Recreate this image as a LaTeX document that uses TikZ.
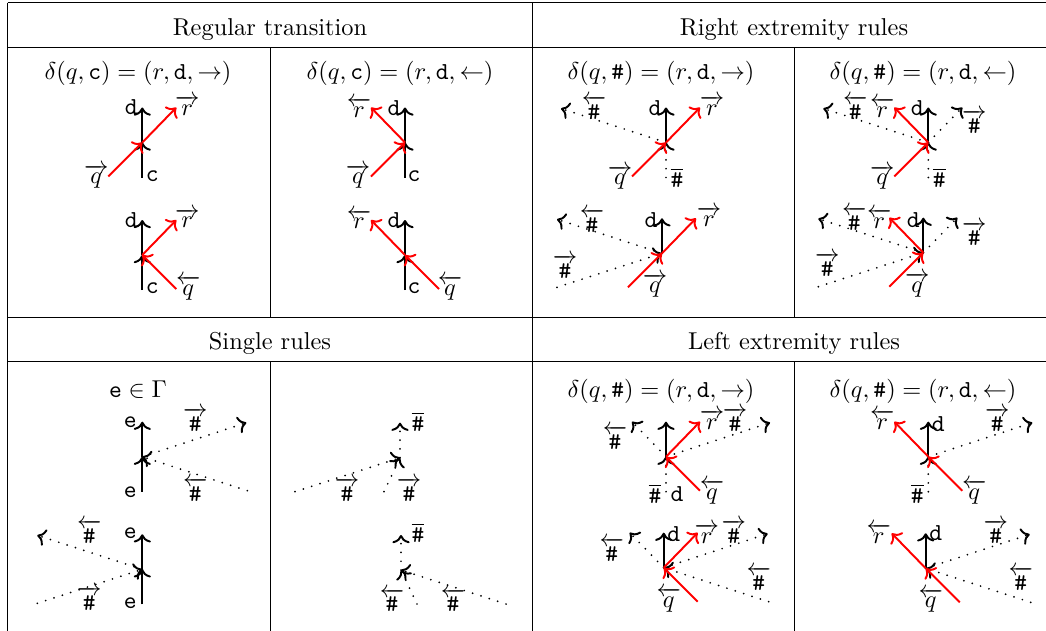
\documentclass[tikz,border=0pt]{standalone}
\usepackage{amsmath,amssymb}
\usetikzlibrary{arrows.meta,positioning}

% end points round the crossing of one diagram
\newcommand{\armends}{%
  \coordinate (c) at (0,0);
  \coordinate (n) at (0,-35);
  \coordinate (s) at (0,35);
  \coordinate (ne) at (34,-35);
  \coordinate (nw) at (-34,-35);
  \coordinate (se) at (34,34);
  \coordinate (sw) at (-34,34);
  \coordinate (wn) at (-105,-34);
  \coordinate (ws) at (-105,34);
  \coordinate (en) at (104,-34);
  \coordinate (es) at (105,34);
  \coordinate (ssw) at (-16,34);
  \coordinate (sse) at (16,34);
}
\newcommand{\hl}{$\overleftarrow{\texttt{\#}}$}
\newcommand{\hr}{$\overrightarrow{\texttt{\#}}$}
\newcommand{\hb}{$\overline{\texttt{\#}}$}

\begin{document}
\begin{tikzpicture}[x=0.41pt, y=-0.41pt,
  tape/.style={thick, ->},
  run/.style={thick, red, ->},
  blank/.style={thick, ->, line cap=round, dash pattern=on 0pt off 3.6pt},
  lbl/.style={inner sep=0pt},
  title/.style={anchor=base}
]
\useasboundingbox (0,0) rectangle (1046,630);

% table
\draw (7.5,2.7) -- (1056,2.7);
\draw (7.5,47) -- (1056,47);
\draw (7.5,317) -- (1056,317);
\draw (7.5,361) -- (1056,361);
\draw (7.5,2.7) -- (7.5,640);
\draw (532,2.7) -- (532,640);
\draw (1056,2.7) -- (1056,640);
\draw (270,47) -- (270,317);
\draw (794,47) -- (794,317);
\draw (270,361) -- (270,640);
\draw (794,361) -- (794,640);

\node[title] (hreg) at (270,35) {Regular transition};
\node[title] (hright) at (794,35) {Right extremity rules};
\node[title] (hsingle) at (270,349) {Single rules};
\node[title] (hleft) at (794,349) {Left extremity rules};

\node[title] (ta) at (138,79.4) {$\delta(q,\texttt{c}) = (r,\texttt{d},\rightarrow)$};
\node[title] (tb) at (400,79.4) {$\delta(q,\texttt{c}) = (r,\texttt{d},\leftarrow)$};
\node[title] (tc) at (661,79.4) {$\delta(q,\texttt{\#}) = (r,\texttt{d},\rightarrow)$};
\node[title] (td) at (923,79.4) {$\delta(q,\texttt{\#}) = (r,\texttt{d},\leftarrow)$};
\node[title] (te) at (138,397.7) {$\texttt{e}\in\Gamma$};
\node[title] (tg) at (661,397.7) {$\delta(q,\texttt{\#}) = (r,\texttt{d},\rightarrow)$};
\node[title] (th) at (923,397.7) {$\delta(q,\texttt{\#}) = (r,\texttt{d},\leftarrow)$};

% regular transition, moving right
\begin{scope}[shift={(142.3,142.5)}, name prefix=a1-]
  \armends
  \draw[tape] (s) -- (c); \draw[tape] (c) -- (n);
  \draw[run] (sw) -- (c); \draw[run] (c) -- (ne);
  \node[lbl] (ld) at (-11,-35) {\texttt{d}};
  \node[lbl] (lc) at (10,34) {\texttt{c}};
  \node[lbl] (lq) at (-46,34) {$\overrightarrow{q}$};
  \node[lbl] (lr) at (45,-37) {$\overrightarrow{r}$};
\end{scope}
\begin{scope}[shift={(142.3,255)}, name prefix=a2-]
  \armends
  \draw[tape] (s) -- (c); \draw[tape] (c) -- (n);
  \draw[run] (se) -- (c); \draw[run] (c) -- (ne);
  \node[lbl] (ld) at (-11,-35) {\texttt{d}};
  \node[lbl] (lc) at (10,33) {\texttt{c}};
  \node[lbl] (lq) at (46,33) {$\overleftarrow{q}$};
  \node[lbl] (lr) at (45,-37) {$\overrightarrow{r}$};
\end{scope}

% regular transition, moving left
\begin{scope}[shift={(405,142.5)}, name prefix=b1-]
  \armends
  \draw[tape] (s) -- (c); \draw[tape] (c) -- (n);
  \draw[run] (sw) -- (c); \draw[run] (c) -- (nw);
  \node[lbl] (ld) at (-11,-34) {\texttt{d}};
  \node[lbl] (lc) at (9,34) {\texttt{c}};
  \node[lbl] (lq) at (-47,34) {$\overrightarrow{q}$};
  \node[lbl] (lr) at (-46,-35) {$\overleftarrow{r}$};
\end{scope}
\begin{scope}[shift={(405,255)}, name prefix=b2-]
  \armends
  \draw[tape] (s) -- (c); \draw[tape] (c) -- (n);
  \draw[run] (se) -- (c); \draw[run] (c) -- (nw);
  \node[lbl] (ld) at (-11,-35) {\texttt{d}};
  \node[lbl] (lc) at (9,33) {\texttt{c}};
  \node[lbl] (lq) at (45,33) {$\overleftarrow{q}$};
  \node[lbl] (lr) at (-46,-36) {$\overleftarrow{r}$};
\end{scope}

% right extremity, moving right
\begin{scope}[shift={(666,142.5)}, name prefix=c1-]
  \armends
  \draw[tape] (c) -- (n);
  \draw[blank] (s) -- (c); \draw[blank] (c) -- (wn);
  \draw[run] (sw) -- (c); \draw[run] (c) -- (ne);
  \node[lbl] (ld) at (-11,-34) {\texttt{d}};
  \node[lbl] (lh1) at (-72,-35) {\hl};
  \node[lbl] (lh2) at (11,35) {\hb};
  \node[lbl] (lq) at (-46,35) {$\overrightarrow{q}$};
  \node[lbl] (lr) at (46,-37) {$\overrightarrow{r}$};
\end{scope}
\begin{scope}[shift={(662,253.3)}, name prefix=c2-]
  \armends
  \draw[tape] (c) -- (n);
  \draw[blank] (c) -- (wn); \draw[blank] (ws) -- (c);
  \draw[run] (sw) -- (c); \draw[run] (c) -- (ne);
  \node[lbl] (ld) at (-11,-33) {\texttt{d}};
  \node[lbl] (lh1) at (-70,-33) {\hl};
  \node[lbl] (lh2) at (-97,13) {\hr};
  \node[lbl] (lq) at (-7,32) {$\overrightarrow{q}$};
  \node[lbl] (lr) at (47,-37) {$\overrightarrow{r}$};
\end{scope}

% right extremity, moving left
\begin{scope}[shift={(928.3,142.5)}, name prefix=d1-]
  \armends
  \draw[tape] (c) -- (n);
  \draw[blank] (s) -- (c); \draw[blank] (c) -- (wn); \draw[blank] (c) -- (ne);
  \draw[run] (sw) -- (c); \draw[run] (c) -- (nw);
  \node[lbl] (ld) at (-11,-34) {\texttt{d}};
  \node[lbl] (lh1) at (-73,-35) {\hl};
  \node[lbl] (lh2) at (46,-21) {\hr};
  \node[lbl] (lh3) at (11,35) {\hb};
  \node[lbl] (lq) at (-46,35) {$\overrightarrow{q}$};
  \node[lbl] (lr) at (-46,-35) {$\overleftarrow{r}$};
\end{scope}
\begin{scope}[shift={(923.3,252.7)}, name prefix=d2-]
  \armends
  \draw[tape] (c) -- (n);
  \draw[blank] (c) -- (wn); \draw[blank] (ws) -- (c); \draw[blank] (c) -- (ne);
  \draw[run] (sw) -- (c); \draw[run] (c) -- (nw);
  \node[lbl] (ld) at (-10,-33) {\texttt{d}};
  \node[lbl] (lh1) at (-69,-34) {\hl};
  \node[lbl] (lh2) at (51,-19) {\hr};
  \node[lbl] (lh3) at (-96,12) {\hr};
  \node[lbl] (lq) at (-6,32) {$\overrightarrow{q}$};
  \node[lbl] (lr) at (-44,-34) {$\overleftarrow{r}$};
\end{scope}

% single rules, letter e
\begin{scope}[shift={(142.3,456.7)}, name prefix=e1-]
  \armends
  \draw[tape] (s) -- (c); \draw[tape] (c) -- (n);
  \draw[blank] (c) -- (en); \draw[blank] (es) -- (c);
  \node[lbl] (le1) at (-12,-35) {\texttt{e}};
  \node[lbl] (le2) at (-12,35) {\texttt{e}};
  \node[lbl] (lh1) at (53,-37) {\hr};
  \node[lbl] (lh2) at (53,33) {\hl};
\end{scope}
\begin{scope}[shift={(142.3,569.3)}, name prefix=e2-]
  \armends
  \draw[tape] (s) -- (c); \draw[tape] (c) -- (n);
  \draw[blank] (c) -- (wn); \draw[blank] (ws) -- (c);
  \node[lbl] (le1) at (-12,-36) {\texttt{e}};
  \node[lbl] (le2) at (-12,34) {\texttt{e}};
  \node[lbl] (lh1) at (-53,-38) {\hl};
  \node[lbl] (lh2) at (-53,29) {\hr};
\end{scope}

% single rules, blank
\begin{scope}[shift={(400,457.7)}, name prefix=f1-]
  \armends
  \draw[blank] (c) -- (n); \draw[blank] (ws) -- (c); \draw[blank] (ssw) -- (c);
  \node[lbl] (lh1) at (18,-36) {\hb};
  \node[lbl] (lh2) at (-53,32) {\hr};
  \node[lbl] (lh3) at (9,32) {\hr};
\end{scope}
\begin{scope}[shift={(401,570)}, name prefix=f2-]
  \armends
  \draw[blank] (c) -- (n); \draw[blank] (sse) -- (c); \draw[blank] (es) -- (c);
  \node[lbl] (lh1) at (17,-37) {\hb};
  \node[lbl] (lh2) at (-9,30) {\hl};
  \node[lbl] (lh3) at (52,30) {\hl};
\end{scope}

% left extremity, moving right
\begin{scope}[shift={(666,456.7)}, name prefix=g1-]
  \armends
  \draw[tape] (c) -- (n);
  \draw[blank] (s) -- (c); \draw[blank] (c) -- (nw); \draw[blank] (c) -- (en);
  \draw[run] (se) -- (c); \draw[run] (c) -- (ne);
  \node[lbl] (lh1) at (-51,-19) {\hl};
  \node[lbl] (lh2) at (69,-37) {\hr};
  \node[lbl] (lh3) at (-11,37) {\hb};
  \node[lbl] (ld) at (11,37) {\texttt{d}};
  \node[lbl] (lq) at (46,35) {$\overleftarrow{q}$};
  \node[lbl] (lr) at (46,-37) {$\overrightarrow{r}$};
\end{scope}
\begin{scope}[shift={(663.7,567.7)}, name prefix=g2-]
  \armends
  \draw[tape] (c) -- (n);
  \draw[blank] (c) -- (nw); \draw[blank] (c) -- (en); \draw[blank] (es) -- (c);
  \draw[run] (se) -- (c); \draw[run] (c) -- (ne);
  \node[lbl] (ld) at (10,-34) {\texttt{d}};
  \node[lbl] (lh1) at (-52,-18) {\hl};
  \node[lbl] (lh2) at (70,-36) {\hr};
  \node[lbl] (lh3) at (95,11) {\hl};
  \node[lbl] (lq) at (5,32) {$\overleftarrow{q}$};
  \node[lbl] (lr) at (43,-34) {$\overrightarrow{r}$};
\end{scope}

% left extremity, moving left
\begin{scope}[shift={(928.3,456.7)}, name prefix=h1-]
  \armends
  \draw[tape] (c) -- (n);
  \draw[blank] (s) -- (c); \draw[blank] (c) -- (en);
  \draw[run] (se) -- (c); \draw[run] (c) -- (nw);
  \node[lbl] (ld) at (10,-33) {\texttt{d}};
  \node[lbl] (lh1) at (69,-37) {\hr};
  \node[lbl] (lh2) at (-11,37) {\hb};
  \node[lbl] (lq) at (46,35) {$\overleftarrow{q}$};
  \node[lbl] (lr) at (-46,-37) {$\overleftarrow{r}$};
\end{scope}
\begin{scope}[shift={(925.7,568.3)}, name prefix=h2-]
  \armends
  \draw[tape] (c) -- (n);
  \draw[blank] (c) -- (en); \draw[blank] (es) -- (c);
  \draw[run] (se) -- (c); \draw[run] (c) -- (nw);
  \node[lbl] (ld) at (10,-35) {\texttt{d}};
  \node[lbl] (lh1) at (70,-37) {\hr};
  \node[lbl] (lh2) at (95,10) {\hl};
  \node[lbl] (lq) at (5,32) {$\overleftarrow{q}$};
  \node[lbl] (lr) at (-47,-35) {$\overleftarrow{r}$};
\end{scope}
\end{tikzpicture}
\end{document}
